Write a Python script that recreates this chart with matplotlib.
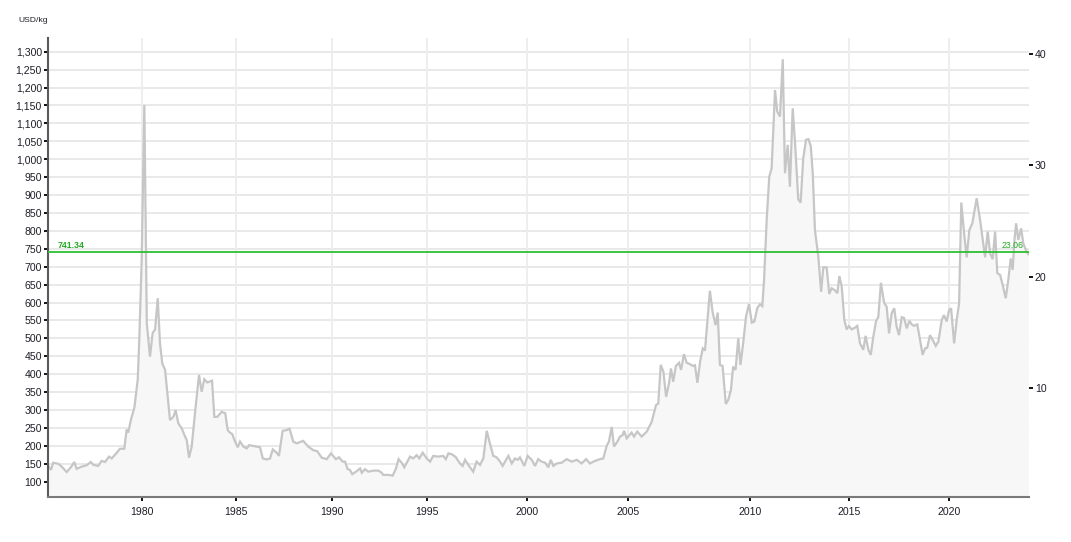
import numpy as np
import matplotlib
matplotlib.use("Agg")
import matplotlib.pyplot as plt
from matplotlib.ticker import FuncFormatter

# ---------------- data (decimal year, USD/kg) ----------------
years = [
    1975.02, 1975.16, 1975.28, 1975.55, 1975.73, 1976.00, 1976.23, 1976.40, 1976.53, 1976.79,
    1977.07, 1977.28, 1977.42, 1977.68, 1977.86, 1978.04, 1978.26, 1978.40, 1978.67, 1978.84,
    1979.07, 1979.20, 1979.28, 1979.43, 1979.61, 1979.79, 1979.87, 1980.00,
    1980.14, 1980.27, 1980.44, 1980.58, 1980.71, 1980.85, 1980.97, 1981.09, 1981.24, 1981.50,
    1981.68, 1981.80, 1981.94, 1982.12, 1982.30, 1982.39, 1982.51, 1982.65, 1982.86, 1983.04,
    1983.18, 1983.32, 1983.48, 1983.73, 1983.85, 1984.01, 1984.24, 1984.43, 1984.56, 1984.68,
    1984.80, 1984.95,
    1985.09, 1985.21, 1985.38, 1985.56, 1985.69, 1986.07, 1986.25, 1986.39, 1986.60, 1986.77,
    1986.91, 1987.11, 1987.23, 1987.42, 1987.63, 1987.78, 1987.97, 1988.15, 1988.49, 1988.75,
    1989.01, 1989.22, 1989.45, 1989.71, 1989.93,
    1990.19, 1990.35, 1990.55, 1990.67, 1990.81, 1990.93, 1991.05, 1991.25, 1991.46, 1991.55,
    1991.72, 1991.89, 1992.16, 1992.42, 1992.60, 1992.68, 1992.95, 1993.18, 1993.35, 1993.49,
    1993.65, 1993.79, 1993.92, 1994.09, 1994.26, 1994.44, 1994.58, 1994.76, 1994.97,
    1995.14, 1995.30, 1995.55, 1995.80, 1995.93, 1996.06, 1996.26, 1996.44, 1996.64, 1996.78,
    1996.90, 1997.06, 1997.31, 1997.48, 1997.65, 1997.82, 1997.99, 1998.19, 1998.32, 1998.49,
    1998.66, 1998.79, 1998.96, 1999.08, 1999.25, 1999.41, 1999.55, 1999.66, 1999.88,
    2000.05, 2000.25, 2000.41, 2000.57, 2000.74, 2000.91, 2001.07, 2001.19, 2001.32, 2001.49,
    2001.73, 2001.98, 2002.23, 2002.48, 2002.72, 2002.94, 2003.13, 2003.38, 2003.63, 2003.79,
    2003.96, 2004.07, 2004.21, 2004.32, 2004.49, 2004.62, 2004.75, 2004.82, 2004.95,
    2005.16, 2005.26, 2005.39, 2005.57, 2005.78, 2005.98, 2006.16, 2006.25, 2006.35, 2006.46,
    2006.57, 2006.69, 2006.77, 2006.86, 2006.97, 2007.10, 2007.18, 2007.30, 2007.41, 2007.55,
    2007.66, 2007.75, 2007.85, 2007.96, 2008.07, 2008.16, 2008.25, 2008.36, 2008.47, 2008.59,
    2008.68, 2008.77, 2008.88, 2009.01, 2009.11, 2009.22, 2009.31, 2009.41, 2009.52, 2009.61,
    2009.72, 2009.84, 2009.96,
    2010.09, 2010.22, 2010.37, 2010.50, 2010.62, 2010.71, 2010.84, 2010.97, 2011.09, 2011.26,
    2011.37, 2011.51, 2011.65, 2011.76, 2011.90, 2012.01, 2012.15, 2012.27, 2012.43, 2012.55,
    2012.68, 2012.82, 2012.94, 2013.06, 2013.16, 2013.27, 2013.44, 2013.58, 2013.69, 2013.86,
    2013.99, 2014.11, 2014.28, 2014.40, 2014.50, 2014.62, 2014.75, 2014.87, 2014.98,
    2015.12, 2015.29, 2015.40, 2015.54, 2015.70, 2015.82, 2015.96, 2016.08, 2016.21, 2016.34,
    2016.46, 2016.59, 2016.75, 2016.88, 2017.00, 2017.13, 2017.26, 2017.38, 2017.50, 2017.64,
    2017.75, 2017.89, 2018.02, 2018.14, 2018.25, 2018.42, 2018.56, 2018.69, 2018.81, 2018.92,
    2019.06, 2019.20, 2019.35, 2019.48, 2019.65, 2019.76, 2019.90,
    2020.02, 2020.12, 2020.27, 2020.40, 2020.52, 2020.63, 2020.78, 2020.90, 2021.03, 2021.18,
    2021.40, 2021.57, 2021.70, 2021.82, 2021.95, 2022.07, 2022.20, 2022.32, 2022.43, 2022.57,
    2022.70, 2022.85, 2022.98, 2023.10, 2023.20, 2023.28, 2023.37, 2023.48, 2023.62, 2023.73,
    2023.87, 2023.98,
]
usd_per_kg = [
    144, 133, 153, 150, 142, 127, 141, 155, 136, 142,
    146, 155, 147, 144, 158, 155, 170, 165, 181, 192,
    192, 246, 237, 274, 307, 386, 495, 719,
    1151, 542, 449, 515, 525, 612, 486, 430, 412, 272,
    281, 300, 263, 249, 226, 216, 167, 198, 309, 398,
    351, 386, 377, 382, 281, 281, 295, 291, 244, 237,
    233, 212,
    196, 212, 198, 193, 202, 198, 196, 165, 162, 165,
    190, 181, 172, 242, 244, 248, 212, 207, 214, 198,
    188, 185, 167, 163, 179,
    163, 168, 156, 156, 135, 133, 121, 128, 137, 125,
    135, 128, 131, 131, 125, 119, 119, 117, 137, 163,
    153, 140, 153, 170, 165, 174, 165, 181, 165,
    156, 172, 170, 172, 163, 179, 176, 168, 151, 144,
    161, 147, 128, 156, 147, 165, 242, 198, 172, 168,
    156, 144, 161, 172, 151, 165, 161, 168, 144,
    172, 161, 144, 163, 156, 153, 140, 161, 144, 151,
    153, 163, 156, 161, 151, 163, 151, 158, 163, 165,
    200, 212, 253, 198, 212, 226, 230, 242, 221,
    237, 226, 240, 226, 240, 267, 314, 318, 426, 407,
    337, 375, 416, 379, 423, 432, 412, 456, 432, 428,
    423, 425, 376, 435, 472, 466, 542, 633, 574, 537,
    572, 426, 423, 317, 328, 356, 421, 412, 500, 426,
    486, 562, 596,
    544, 547, 585, 595, 590, 665, 830, 951, 975, 1193,
    1133, 1119, 1279, 961, 1040, 923, 1142, 1044, 888, 879,
    1002, 1054, 1056, 1037, 961, 802, 728, 630, 698, 698,
    624, 640, 634, 626, 674, 644, 551, 525, 534,
    525, 530, 535, 486, 468, 507, 468, 454, 505, 547,
    560, 655, 600, 588, 514, 570, 584, 533, 509, 559,
    557, 528, 549, 539, 535, 539, 495, 454, 472, 474,
    509, 495, 479, 491, 551, 565, 547,
    579, 584, 486, 551, 598, 879, 788, 726, 802, 821,
    891, 830, 775, 726, 798, 737, 721, 798, 682, 677,
    649, 612, 663, 723, 691, 770, 821, 775, 807, 765,
    745, 735,
]
current_kg = 741.34
current_oz = 23.06
x_ticks = [1980, 1985, 1990, 1995, 2000, 2005, 2010, 2015, 2020]
y_ticks_left = list(range(100, 1301, 50))
y_ticks_right = [10, 20, 30, 40]
unit_label = "USD/kg"

# ---------------- non-uniform time scale (as in the source chart) ----------------
scale_years = np.array([1900, 1975, 1980, 1985, 1990, 1995, 2000, 2005, 2010, 2015, 2020, 2024, 2100])
scale_pos = np.array([-1405.6, 0.0, 93.7, 188.0, 284.3, 379.3, 478.7, 579.7, 702.0, 801.3, 900.7, 980.7, 2500.7])

def fwd(v):
    return np.interp(v, scale_years, scale_pos)

def inv(v):
    return np.interp(v, scale_pos, scale_years)

# ---------------- figure ----------------
W, H = 1071, 542
fig = plt.figure(figsize=(W / 100, H / 100), dpi=100)
fig.patch.set_facecolor("white")
plt.rcParams["font.family"] = ["Liberation Sans", "DejaVu Sans"]

L, R, B, T = 48, 1028.7, 497.3, 38.3
ax = fig.add_axes([L / W, 1 - B / H, (R - L) / W, (B - T) / H])
ax.set_xscale("function", functions=(fwd, inv))
ax.set_xlim(1975, 2024)
ax.set_ylim(56.5, 1337.4)

grid_c = "#e9e9e9"
for yv in y_ticks_left:
    ax.axhline(yv, color=grid_c, lw=1.4, zorder=0)
for xv in x_ticks:
    ax.axvline(xv, color="#eeeeee", lw=1.4, zorder=0)

ax.fill_between(years, usd_per_kg, 0, color="#f7f7f7", lw=0, zorder=1)
ax.plot(years, usd_per_kg, color="#c6c6c6", lw=1.6, zorder=2, solid_joinstyle="miter")

green = "#2fbf2f"
ax.axhline(current_kg, color=green, lw=1.3, zorder=3)
ax.text(1975.5, current_kg + 6, f"{current_kg:.2f}", color="#22aa22", fontsize=6.3,
        fontweight="bold", ha="left", va="bottom", zorder=4)
ax.text(2023.75, current_kg + 6, f"{current_oz:.2f}", color="#22aa22", fontsize=6.3,
        ha="right", va="bottom", zorder=4)

ax.set_xticks(x_ticks)
ax.set_xticklabels([str(x) for x in x_ticks])
ax.set_yticks(y_ticks_left)
ax.yaxis.set_major_formatter(FuncFormatter(lambda v, p: f"{int(v):,}"))

for s in ["top", "right"]:
    ax.spines[s].set_visible(False)
ax.spines["left"].set_color("#5a5a5a")
ax.spines["left"].set_linewidth(1.5)
ax.spines["bottom"].set_color("#7a7a7a")
ax.spines["bottom"].set_linewidth(1.5)

txt_c = "#1e1e28"
ax.tick_params(axis="y", direction="out", length=3.2, width=1.4, color="#111111",
               labelsize=7.6, labelcolor=txt_c, pad=1.2)
ax.tick_params(axis="x", direction="out", length=3.2, width=1.4, color="#111111",
               labelsize=7.6, labelcolor=txt_c, pad=4)

ax2 = ax.twinx()
ax2.set_ylim(0.19, 41.41)
ax2.set_yticks(y_ticks_right)
for s in ax2.spines.values():
    s.set_visible(False)
ax2.tick_params(axis="y", direction="out", length=3.2, width=1.4, color="#111111",
                labelsize=7.6, labelcolor=txt_c, pad=1.2)

fig.text(18 / W, 1 - 20.7 / H, unit_label, fontsize=6.1, color=txt_c, ha="left", va="center")

fig.savefig("out.png", dpi=100, facecolor="white")
